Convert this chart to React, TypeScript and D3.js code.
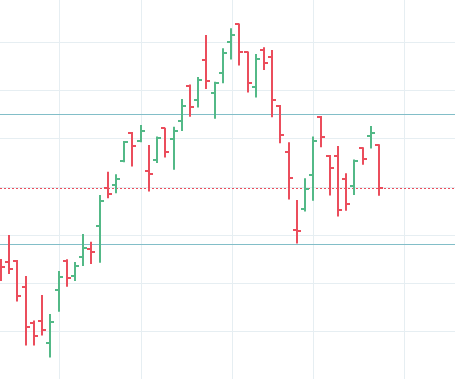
import * as d3 from "d3";

// OHLC bars, one per session
const opens = [
  84.37, 84.27, 84.58, 79.25, 71.84, 72.15, 67.66, 78.67, 84.64, 81.57,
  85.34, 87.0, 91.88, 99.63, 100.31, 105.28, 111.18, 109.42, 103.11, 105.49,
  112.05, 109.83, 113.56, 120.91, 117.91, 126.25, 119.3, 123.44, 129.98, 133.58,
  127.91, 120.6, 128.16, 126.75, 116.67, 107.18, 90.99, 95.38, 102.38, 114.45,
  106.36, 106.38, 101.45, 100.1, 107.93, 110.46, 108.53,
];
const highs = [
  84.99, 89.96, 84.78, 81.47, 72.26, 77.54, 73.6, 82.51, 84.93, 84.37,
  90.17, 88.57, 98.24, 103.06, 102.53, 109.42, 111.28, 112.73, 108.59, 110.35,
  112.17, 112.38, 118.12, 121.12, 122.67, 131.37, 121.7, 128.61, 132.75, 133.75,
  127.95, 127.43, 128.82, 128.26, 116.87, 109.17, 97.2, 101.72, 110.35, 114.6,
  106.52, 108.39, 102.75, 105.59, 108.12, 112.53, 108.76,
];
const lows = [
  80.43, 81.88, 76.19, 67.08, 67.08, 69.15, 64.6, 74.08, 79.25, 80.43,
  83.54, 83.95, 84.22, 97.56, 98.59, 105.01, 104.14, 109.15, 98.96, 104.87,
  106.0, 103.46, 111.49, 114.45, 116.36, 120.19, 114.04, 121.37, 126.29, 125.05,
  119.46, 118.43, 124.12, 114.33, 108.94, 97.31, 88.2, 94.82, 97.06, 108.12,
  98.14, 93.79, 94.99, 98.24, 104.49, 107.87, 98.1,
];
const closes = [
  83.33, 82.82, 77.33, 70.97, 68.99, 70.23, 72.01, 81.33, 81.12, 83.54,
  87.33, 86.5, 97.06, 98.51, 101.55, 109.28, 108.39, 111.49, 102.65, 110.04,
  107.14, 111.39, 116.67, 116.36, 122.05, 121.84, 121.37, 127.58, 131.3, 127.95,
  121.37, 126.46, 125.63, 117.81, 110.72, 101.82, 90.85, 99.38, 109.48, 110.35,
  103.73, 95.2, 96.44, 105.18, 105.69, 111.08, 99.63,
];

const priceTicks = [70, 80, 90, 100, 110, 120, 130];
const timeTicks = [7, 17, 28.1, 38, 49];
const levels = [115, 88];

const W = 455;
const H = 385;
const plotBottom = 379;
const up = "#53b987";
const down = "#eb4d5c";
const grid = "#e6eef2";

export default function App() {
  const x = d3.scaleLinear().domain([0, 46]).range([1, 379]);
  const y = d3.scaleLinear().domain([70, 130]).range([331.4, 41.6]);
  const last = closes[closes.length - 1];
  const tick = 4;

  return (
    <svg
      width={W}
      height={H}
      style={{ position: "fixed", left: 0, top: 0, background: "#fff" }}
    >
      {/* grid */}
      {priceTicks.map((p) => (
        <line
          key={`h${p}`}
          x1={0}
          x2={W}
          y1={Math.round(y(p)) + 0.5}
          y2={Math.round(y(p)) + 0.5}
          stroke={grid}
        />
      ))}
      {timeTicks.map((t) => (
        <line
          key={`v${t}`}
          x1={Math.round(x(t)) + 0.5}
          x2={Math.round(x(t)) + 0.5}
          y1={0}
          y2={plotBottom}
          stroke={grid}
        />
      ))}

      {/* levels */}
      {levels.map((l) => (
        <line
          key={`l${l}`}
          x1={0}
          x2={W}
          y1={Math.round(y(l)) + 0.5}
          y2={Math.round(y(l)) + 0.5}
          stroke="#82bec8"
        />
      ))}
      <line
        x1={0}
        x2={W}
        y1={Math.round(y(last)) + 0.5}
        y2={Math.round(y(last)) + 0.5}
        stroke={down}
        strokeDasharray="2 2"
      />

      {/* bars */}
      {opens.map((o, i) => {
        const cx = Math.round(x(i));
        const c = closes[i];
        const color = c >= o ? up : down;
        return (
          <g key={i} stroke={color} strokeWidth={2}>
            <line x1={cx} x2={cx} y1={y(highs[i])} y2={y(lows[i])} />
            <line x1={cx - tick} x2={cx} y1={Math.round(y(o))} y2={Math.round(y(o))} />
            <line x1={cx} x2={cx + tick} y1={Math.round(y(c))} y2={Math.round(y(c))} />
          </g>
        );
      })}
    </svg>
  );
}
